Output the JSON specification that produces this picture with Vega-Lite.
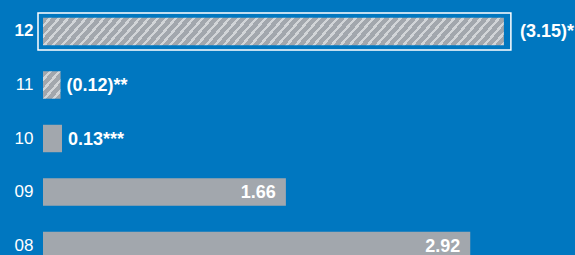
{
  "$schema": "https://vega.github.io/schema/vega-lite/v6.json",
  "width": 532,
  "height": 277,
  "autosize": "none",
  "padding": {"left": 43, "top": 0, "right": 0, "bottom": 0},
  "background": "#0077c0",
  "config": {"view": {"stroke": null}},
  "data": {
    "values": [
      {"year": "12", "magnitude": 3.15, "label": "(3.15)*", "hatched": true},
      {"year": "11", "magnitude": 0.12, "label": "(0.12)**", "hatched": true},
      {"year": "10", "magnitude": 0.13, "label": "0.13***", "hatched": false},
      {"year": "09", "magnitude": 1.66, "label": "1.66", "hatched": false},
      {"year": "08", "magnitude": 2.92, "label": "2.92", "hatched": false}
    ]
  },
  "encoding": {
    "y": {
      "field": "year", "type": "nominal", "sort": ["12", "11", "10", "09", "08"],
      "scale": {"paddingInner": 0.487, "paddingOuter": 0.331},
      "axis": {
        "title": null, "ticks": false, "domain": false, "grid": false,
        "labelPadding": 10, "labelFontSize": 17, "labelColor": "#ffffff",
        "labelFont": "Liberation Sans", "labelBaseline": "middle",
        "labelFontWeight": {"condition": {"test": "datum.value === '12'", "value": "bold"}, "value": "normal"}
      }
    },
    "x": {
      "field": "magnitude", "type": "quantitative",
      "scale": {"domain": [0, 3.636], "nice": false, "zero": true},
      "axis": null
    }
  },
  "layer": [
    {
      "transform": [{"filter": "!datum.hatched"}],
      "mark": {"type": "bar", "fill": "#a2a7ad"}
    },
    {
      "transform": [{"filter": "datum.year === '12'"}],
      "mark": {"type": "bar", "fill": {"gradient": "linear", "x1": 0, "y1": 0, "x2": 1.0493, "y2": 0.0547, "stops": [
        {"offset":0,"color":"#a2a7ad"},{"offset":0.01204,"color":"#a2a7ad"},{"offset":0.01204,"color":"#d2d5d8"},{"offset":0.01852,"color":"#d2d5d8"},
        {"offset":0.01852,"color":"#a2a7ad"},{"offset":0.03056,"color":"#a2a7ad"},{"offset":0.03056,"color":"#d2d5d8"},{"offset":0.03704,"color":"#d2d5d8"},
        {"offset":0.03704,"color":"#a2a7ad"},{"offset":0.04907,"color":"#a2a7ad"},{"offset":0.04907,"color":"#d2d5d8"},{"offset":0.05556,"color":"#d2d5d8"},
        {"offset":0.05556,"color":"#a2a7ad"},{"offset":0.06759,"color":"#a2a7ad"},{"offset":0.06759,"color":"#d2d5d8"},{"offset":0.07407,"color":"#d2d5d8"},
        {"offset":0.07407,"color":"#a2a7ad"},{"offset":0.08611,"color":"#a2a7ad"},{"offset":0.08611,"color":"#d2d5d8"},{"offset":0.09259,"color":"#d2d5d8"},
        {"offset":0.09259,"color":"#a2a7ad"},{"offset":0.10463,"color":"#a2a7ad"},{"offset":0.10463,"color":"#d2d5d8"},{"offset":0.11111,"color":"#d2d5d8"},
        {"offset":0.11111,"color":"#a2a7ad"},{"offset":0.12315,"color":"#a2a7ad"},{"offset":0.12315,"color":"#d2d5d8"},{"offset":0.12963,"color":"#d2d5d8"},
        {"offset":0.12963,"color":"#a2a7ad"},{"offset":0.14167,"color":"#a2a7ad"},{"offset":0.14167,"color":"#d2d5d8"},{"offset":0.14815,"color":"#d2d5d8"},
        {"offset":0.14815,"color":"#a2a7ad"},{"offset":0.16019,"color":"#a2a7ad"},{"offset":0.16019,"color":"#d2d5d8"},{"offset":0.16667,"color":"#d2d5d8"},
        {"offset":0.16667,"color":"#a2a7ad"},{"offset":0.1787,"color":"#a2a7ad"},{"offset":0.1787,"color":"#d2d5d8"},{"offset":0.18519,"color":"#d2d5d8"},
        {"offset":0.18519,"color":"#a2a7ad"},{"offset":0.19722,"color":"#a2a7ad"},{"offset":0.19722,"color":"#d2d5d8"},{"offset":0.2037,"color":"#d2d5d8"},
        {"offset":0.2037,"color":"#a2a7ad"},{"offset":0.21574,"color":"#a2a7ad"},{"offset":0.21574,"color":"#d2d5d8"},{"offset":0.22222,"color":"#d2d5d8"},
        {"offset":0.22222,"color":"#a2a7ad"},{"offset":0.23426,"color":"#a2a7ad"},{"offset":0.23426,"color":"#d2d5d8"},{"offset":0.24074,"color":"#d2d5d8"},
        {"offset":0.24074,"color":"#a2a7ad"},{"offset":0.25278,"color":"#a2a7ad"},{"offset":0.25278,"color":"#d2d5d8"},{"offset":0.25926,"color":"#d2d5d8"},
        {"offset":0.25926,"color":"#a2a7ad"},{"offset":0.2713,"color":"#a2a7ad"},{"offset":0.2713,"color":"#d2d5d8"},{"offset":0.27778,"color":"#d2d5d8"},
        {"offset":0.27778,"color":"#a2a7ad"},{"offset":0.28981,"color":"#a2a7ad"},{"offset":0.28981,"color":"#d2d5d8"},{"offset":0.2963,"color":"#d2d5d8"},
        {"offset":0.2963,"color":"#a2a7ad"},{"offset":0.30833,"color":"#a2a7ad"},{"offset":0.30833,"color":"#d2d5d8"},{"offset":0.31481,"color":"#d2d5d8"},
        {"offset":0.31481,"color":"#a2a7ad"},{"offset":0.32685,"color":"#a2a7ad"},{"offset":0.32685,"color":"#d2d5d8"},{"offset":0.33333,"color":"#d2d5d8"},
        {"offset":0.33333,"color":"#a2a7ad"},{"offset":0.34537,"color":"#a2a7ad"},{"offset":0.34537,"color":"#d2d5d8"},{"offset":0.35185,"color":"#d2d5d8"},
        {"offset":0.35185,"color":"#a2a7ad"},{"offset":0.36389,"color":"#a2a7ad"},{"offset":0.36389,"color":"#d2d5d8"},{"offset":0.37037,"color":"#d2d5d8"},
        {"offset":0.37037,"color":"#a2a7ad"},{"offset":0.38241,"color":"#a2a7ad"},{"offset":0.38241,"color":"#d2d5d8"},{"offset":0.38889,"color":"#d2d5d8"},
        {"offset":0.38889,"color":"#a2a7ad"},{"offset":0.40093,"color":"#a2a7ad"},{"offset":0.40093,"color":"#d2d5d8"},{"offset":0.40741,"color":"#d2d5d8"},
        {"offset":0.40741,"color":"#a2a7ad"},{"offset":0.41944,"color":"#a2a7ad"},{"offset":0.41944,"color":"#d2d5d8"},{"offset":0.42593,"color":"#d2d5d8"},
        {"offset":0.42593,"color":"#a2a7ad"},{"offset":0.43796,"color":"#a2a7ad"},{"offset":0.43796,"color":"#d2d5d8"},{"offset":0.44444,"color":"#d2d5d8"},
        {"offset":0.44444,"color":"#a2a7ad"},{"offset":0.45648,"color":"#a2a7ad"},{"offset":0.45648,"color":"#d2d5d8"},{"offset":0.46296,"color":"#d2d5d8"},
        {"offset":0.46296,"color":"#a2a7ad"},{"offset":0.475,"color":"#a2a7ad"},{"offset":0.475,"color":"#d2d5d8"},{"offset":0.48148,"color":"#d2d5d8"},
        {"offset":0.48148,"color":"#a2a7ad"},{"offset":0.49352,"color":"#a2a7ad"},{"offset":0.49352,"color":"#d2d5d8"},{"offset":0.5,"color":"#d2d5d8"},
        {"offset":0.5,"color":"#a2a7ad"},{"offset":0.51204,"color":"#a2a7ad"},{"offset":0.51204,"color":"#d2d5d8"},{"offset":0.51852,"color":"#d2d5d8"},
        {"offset":0.51852,"color":"#a2a7ad"},{"offset":0.53056,"color":"#a2a7ad"},{"offset":0.53056,"color":"#d2d5d8"},{"offset":0.53704,"color":"#d2d5d8"},
        {"offset":0.53704,"color":"#a2a7ad"},{"offset":0.54907,"color":"#a2a7ad"},{"offset":0.54907,"color":"#d2d5d8"},{"offset":0.55556,"color":"#d2d5d8"},
        {"offset":0.55556,"color":"#a2a7ad"},{"offset":0.56759,"color":"#a2a7ad"},{"offset":0.56759,"color":"#d2d5d8"},{"offset":0.57407,"color":"#d2d5d8"},
        {"offset":0.57407,"color":"#a2a7ad"},{"offset":0.58611,"color":"#a2a7ad"},{"offset":0.58611,"color":"#d2d5d8"},{"offset":0.59259,"color":"#d2d5d8"},
        {"offset":0.59259,"color":"#a2a7ad"},{"offset":0.60463,"color":"#a2a7ad"},{"offset":0.60463,"color":"#d2d5d8"},{"offset":0.61111,"color":"#d2d5d8"},
        {"offset":0.61111,"color":"#a2a7ad"},{"offset":0.62315,"color":"#a2a7ad"},{"offset":0.62315,"color":"#d2d5d8"},{"offset":0.62963,"color":"#d2d5d8"},
        {"offset":0.62963,"color":"#a2a7ad"},{"offset":0.64167,"color":"#a2a7ad"},{"offset":0.64167,"color":"#d2d5d8"},{"offset":0.64815,"color":"#d2d5d8"},
        {"offset":0.64815,"color":"#a2a7ad"},{"offset":0.66019,"color":"#a2a7ad"},{"offset":0.66019,"color":"#d2d5d8"},{"offset":0.66667,"color":"#d2d5d8"},
        {"offset":0.66667,"color":"#a2a7ad"},{"offset":0.6787,"color":"#a2a7ad"},{"offset":0.6787,"color":"#d2d5d8"},{"offset":0.68519,"color":"#d2d5d8"},
        {"offset":0.68519,"color":"#a2a7ad"},{"offset":0.69722,"color":"#a2a7ad"},{"offset":0.69722,"color":"#d2d5d8"},{"offset":0.7037,"color":"#d2d5d8"},
        {"offset":0.7037,"color":"#a2a7ad"},{"offset":0.71574,"color":"#a2a7ad"},{"offset":0.71574,"color":"#d2d5d8"},{"offset":0.72222,"color":"#d2d5d8"},
        {"offset":0.72222,"color":"#a2a7ad"},{"offset":0.73426,"color":"#a2a7ad"},{"offset":0.73426,"color":"#d2d5d8"},{"offset":0.74074,"color":"#d2d5d8"},
        {"offset":0.74074,"color":"#a2a7ad"},{"offset":0.75278,"color":"#a2a7ad"},{"offset":0.75278,"color":"#d2d5d8"},{"offset":0.75926,"color":"#d2d5d8"},
        {"offset":0.75926,"color":"#a2a7ad"},{"offset":0.7713,"color":"#a2a7ad"},{"offset":0.7713,"color":"#d2d5d8"},{"offset":0.77778,"color":"#d2d5d8"},
        {"offset":0.77778,"color":"#a2a7ad"},{"offset":0.78981,"color":"#a2a7ad"},{"offset":0.78981,"color":"#d2d5d8"},{"offset":0.7963,"color":"#d2d5d8"},
        {"offset":0.7963,"color":"#a2a7ad"},{"offset":0.80833,"color":"#a2a7ad"},{"offset":0.80833,"color":"#d2d5d8"},{"offset":0.81481,"color":"#d2d5d8"},
        {"offset":0.81481,"color":"#a2a7ad"},{"offset":0.82685,"color":"#a2a7ad"},{"offset":0.82685,"color":"#d2d5d8"},{"offset":0.83333,"color":"#d2d5d8"},
        {"offset":0.83333,"color":"#a2a7ad"},{"offset":0.84537,"color":"#a2a7ad"},{"offset":0.84537,"color":"#d2d5d8"},{"offset":0.85185,"color":"#d2d5d8"},
        {"offset":0.85185,"color":"#a2a7ad"},{"offset":0.86389,"color":"#a2a7ad"},{"offset":0.86389,"color":"#d2d5d8"},{"offset":0.87037,"color":"#d2d5d8"},
        {"offset":0.87037,"color":"#a2a7ad"},{"offset":0.88241,"color":"#a2a7ad"},{"offset":0.88241,"color":"#d2d5d8"},{"offset":0.88889,"color":"#d2d5d8"},
        {"offset":0.88889,"color":"#a2a7ad"},{"offset":0.90093,"color":"#a2a7ad"},{"offset":0.90093,"color":"#d2d5d8"},{"offset":0.90741,"color":"#d2d5d8"},
        {"offset":0.90741,"color":"#a2a7ad"},{"offset":0.91944,"color":"#a2a7ad"},{"offset":0.91944,"color":"#d2d5d8"},{"offset":0.92593,"color":"#d2d5d8"},
        {"offset":0.92593,"color":"#a2a7ad"},{"offset":0.93796,"color":"#a2a7ad"},{"offset":0.93796,"color":"#d2d5d8"},{"offset":0.94444,"color":"#d2d5d8"},
        {"offset":0.94444,"color":"#a2a7ad"},{"offset":0.95648,"color":"#a2a7ad"},{"offset":0.95648,"color":"#d2d5d8"},{"offset":0.96296,"color":"#d2d5d8"},
        {"offset":0.96296,"color":"#a2a7ad"},{"offset":0.975,"color":"#a2a7ad"},{"offset":0.975,"color":"#d2d5d8"},{"offset":0.98148,"color":"#d2d5d8"},
        {"offset":0.98148,"color":"#a2a7ad"},{"offset":0.99352,"color":"#a2a7ad"},{"offset":0.99352,"color":"#d2d5d8"},{"offset":1,"color":"#d2d5d8"}
      ]}}
    },
    {
      "transform": [{"filter": "datum.year === '11'"}],
      "mark": {"type": "bar", "fill": {"gradient": "linear", "x1": 0, "y1": 0, "x2": 0.825, "y2": 1.128, "stops": [
        {"offset":0,"color":"#a2a7ad"},{"offset":0.1407,"color":"#a2a7ad"},{"offset":0.1407,"color":"#d2d5d8"},{"offset":0.2165,"color":"#d2d5d8"},
        {"offset":0.2165,"color":"#a2a7ad"},{"offset":0.3572,"color":"#a2a7ad"},{"offset":0.3572,"color":"#d2d5d8"},{"offset":0.433,"color":"#d2d5d8"},
        {"offset":0.433,"color":"#a2a7ad"},{"offset":0.5737,"color":"#a2a7ad"},{"offset":0.5737,"color":"#d2d5d8"},{"offset":0.6495,"color":"#d2d5d8"},
        {"offset":0.6495,"color":"#a2a7ad"},{"offset":0.7902,"color":"#a2a7ad"},{"offset":0.7902,"color":"#d2d5d8"},{"offset":0.866,"color":"#d2d5d8"},
        {"offset":0.866,"color":"#a2a7ad"},{"offset":1,"color":"#a2a7ad"}
      ]}}
    },
    {
      "transform": [{"filter": "datum.year === '12'"}],
      "mark": {"type": "bar", "fill": null, "stroke": "#ffffff", "strokeWidth": 1.5, "size": 37, "xOffset": 7, "x2Offset": -5},
      "encoding": {"x2": {"datum": 0}}
    },
    {
      "transform": [{"filter": "!datum.hatched && datum.magnitude > 1"}],
      "mark": {"type": "text", "align": "right", "baseline": "middle", "dx": -10, "dy": 1, "font": "Liberation Sans", "fontSize": 18, "fontWeight": "bold", "color": "#ffffff"},
      "encoding": {"text": {"field": "label"}}
    },
    {
      "transform": [{"filter": "datum.year === '11' || datum.year === '10'"}],
      "mark": {"type": "text", "align": "left", "baseline": "middle", "dx": 6, "dy": 1, "font": "Liberation Sans", "fontSize": 18, "fontWeight": "bold", "color": "#ffffff"},
      "encoding": {"text": {"field": "label"}}
    },
    {
      "transform": [{"filter": "datum.year === '12'"}],
      "mark": {"type": "text", "align": "left", "baseline": "middle", "dx": 16, "dy": 1, "font": "Liberation Sans", "fontSize": 18, "fontWeight": "bold", "color": "#ffffff"},
      "encoding": {"text": {"field": "label"}}
    }
  ]
}
